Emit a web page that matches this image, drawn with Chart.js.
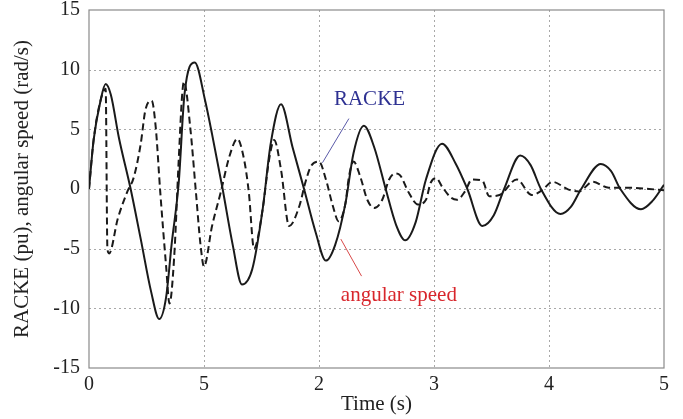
<!DOCTYPE html>
<html>
<head>
<meta charset="utf-8">
<script src="https://cdn.jsdelivr.net/npm/chart.js@4/dist/chart.umd.min.js"></script>
<style>
  html, body { margin: 0; padding: 0; background: #fff; }
  #wrap { width: 683px; height: 419px; position: relative; }
</style>
</head>
<body>
<div id="wrap"><canvas id="chart"></canvas></div>
<script>
// x tick labels as printed in the figure (the second one reads "5")
var xTickLabels = ['0', '5', '2', '3', '4', '5'];

// angular speed (solid)
var speedTime = [0, 0.04, 0.10, 0.145, 0.19, 0.26, 0.36, 0.45, 0.54, 0.61, 0.67, 0.72, 0.78, 0.83, 0.92,
  1.01, 1.07, 1.16, 1.25, 1.33, 1.42, 1.51, 1.58, 1.67, 1.77, 1.87, 1.97, 2.06, 2.14, 2.23, 2.30,
  2.39, 2.48, 2.58, 2.67, 2.75, 2.84, 2.93, 3.07, 3.19, 3.29, 3.42, 3.52, 3.61, 3.75, 3.84, 3.93,
  4.10, 4.19, 4.28, 4.45, 4.54, 4.62, 4.80, 4.90, 5.0];
var speedValue = [0, 4.1, 7.4, 8.8, 7.9, 4.3, 0.1, -4.2, -8.6, -10.9, -9.1, -4.5, 0.5, 7.9, 10.6,
  7.4, 4.6, 0.1, -4.7, -8.0, -6.7, -1.7, 3.8, 7.1, 3.5, 0, -3.6, -6.0, -4.7, -1.2, 3.0,
  5.3, 3.5, 0, -3.0, -4.3, -2.8, 0.8, 3.8, 2.1, 0, -3.1, -2.2, 0, 2.8, 2.0, 0,
  -2.1, -1.5, 0, 2.1, 1.5, 0, -1.7, -1.0, 0.35];

// RACKE (dashed)
var rackeTime = [0, 0.04, 0.10, 0.145, 0.16, 0.175, 0.25, 0.33, 0.39, 0.45, 0.49, 0.545, 0.58, 0.62,
  0.67, 0.70, 0.74, 0.78, 0.81, 0.826, 0.88, 0.93, 0.97, 1.0, 1.07, 1.145, 1.22, 1.29, 1.35, 1.39,
  1.435, 1.51, 1.565, 1.61, 1.67, 1.74, 1.83, 1.88, 1.93, 2.0, 2.06, 2.12, 2.17, 2.23, 2.26, 2.30,
  2.36, 2.42, 2.48, 2.55, 2.61, 2.66, 2.70, 2.78, 2.86, 2.93, 2.97, 3.02, 3.07, 3.145, 3.20, 3.27,
  3.33, 3.42, 3.48, 3.57, 3.72, 3.85, 3.94, 4.03, 4.17, 4.26, 4.38, 4.52, 4.70, 4.87, 5.0];
var rackeValue = [0, 4.1, 7.4, 8.4, -5.0, -5.4, -2.5, -0.3, 1.0, 3.8, 6.6, 7.4, 5.2, -0.3,
  -6.4, -9.6, -5.8, 2.4, 7.9, 9.0, 5.2, -0.3, -4.7, -6.5, -3.1, -0.3, 2.7, 4.2, 2.4, -0.3,
  -5.0, -1.7, 2.4, 4.1, 1.6, -3.1, -1.4, 0.5, 1.9, 2.3, 0.8, -1.4, -2.7, -1.2, 1.0, 2.3,
  1.0, -0.9, -1.6, -0.9, 0.8, 1.3, 1.2, -0.3, -1.3, -0.9, 0.5, 0.9, 0.2, -0.7, -0.9, -0.2,
  0.8, 0.7, -0.6, -0.5, 0.8, -0.5, -0.1, 0.6, -0.05, -0.2, 0.6, 0.1, 0.1, 0.0, -0.1];

// callout labels, in data units: [text, text x, text y, line from x, y, line to x, y]
var rackeNote = ['RACKE', 2.13, 7.0, 2.26, 5.9, 2.03, 2.2];
var speedNote = ['angular speed', 2.19, -9.4, 2.19, -4.2, 2.37, -7.3];

function toPoints(xs, ys){
  var pts = [];
  for (var i = 0; i < xs.length; i++) pts.push({x: xs[i], y: ys[i]});
  return pts;
}

var serif = "'Liberation Serif', 'DejaVu Serif', serif";

// dotted grid, frame and callout texts
var framePlugin = {
  id: 'frame',
  beforeDatasetsDraw: function(chart){
    var a = chart.chartArea, ctx = chart.ctx;
    var xs = chart.scales.x, ys = chart.scales.y;
    ctx.save();
    ctx.strokeStyle = '#a8a8a8';
    ctx.lineWidth = 1;
    ctx.setLineDash([2, 3]);
    xs.ticks.forEach(function(t){
      var px = Math.round(xs.getPixelForValue(t.value)) + 0.5;
      if (px - a.left < 2 || a.right - px < 2) return;
      ctx.beginPath(); ctx.moveTo(px, a.top); ctx.lineTo(px, a.bottom); ctx.stroke();
    });
    ys.ticks.forEach(function(t){
      var py = Math.round(ys.getPixelForValue(t.value)) + 0.5;
      if (py - a.top < 2 || a.bottom - py < 2) return;
      ctx.beginPath(); ctx.moveTo(a.left, py); ctx.lineTo(a.right, py); ctx.stroke();
    });
    ctx.setLineDash([]);
    ctx.strokeStyle = '#8a8a8a';
    ctx.lineWidth = 1.2;
    ctx.strokeRect(a.left, a.top, a.right - a.left, a.bottom - a.top);
    ctx.restore();
  },
  afterDatasetsDraw: function(chart){
    var xs = chart.scales.x, ys = chart.scales.y, ctx = chart.ctx;
    function note(n, textColor, lineColor){
      ctx.save();
      ctx.strokeStyle = lineColor;
      ctx.lineWidth = 1;
      ctx.beginPath();
      ctx.moveTo(xs.getPixelForValue(n[3]), ys.getPixelForValue(n[4]));
      ctx.lineTo(xs.getPixelForValue(n[5]), ys.getPixelForValue(n[6]));
      ctx.stroke();
      ctx.fillStyle = textColor;
      ctx.font = '21px ' + serif;
      ctx.textBaseline = 'alphabetic';
      ctx.fillText(n[0], xs.getPixelForValue(n[1]), ys.getPixelForValue(n[2]));
      ctx.restore();
    }
    note(rackeNote, '#2e3192', '#5a5aa8');
    note(speedNote, '#d8262c', '#d84848');
  }
};

var ctx = document.getElementById('chart').getContext('2d');
new Chart(ctx, {
  type: 'line',
  data: {
    datasets: [
      {
        label: 'angular speed',
        data: toPoints(speedTime, speedValue),
        borderColor: '#1a1a1a',
        borderWidth: 2,
        pointRadius: 0,
        cubicInterpolationMode: 'monotone',
        fill: false
      },
      {
        label: 'RACKE',
        data: toPoints(rackeTime, rackeValue),
        borderColor: '#1a1a1a',
        borderWidth: 2,
        borderDash: [7, 4],
        pointRadius: 0,
        cubicInterpolationMode: 'monotone',
        fill: false
      }
    ]
  },
  options: {
    responsive: true,
    maintainAspectRatio: false,
    animation: false,
    events: [],
    layout: { padding: { top: 10, right: 19, left: 0, bottom: 0 } },
    plugins: {
      legend: { display: false },
      tooltip: { enabled: false }
    },
    scales: {
      x: {
        type: 'linear',
        min: 0, max: 5,
        ticks: {
          stepSize: 1,
          padding: 5,
          color: '#222',
          font: { family: serif, size: 20 },
          maxRotation: 0,
          callback: function(v){ return xTickLabels[Math.round(v)]; }
        },
        grid: { display: false, drawTicks: false },
        border: { display: false },
        title: {
          display: true,
          text: 'Time (s)',
          color: '#222',
          font: { family: serif, size: 21 },
          padding: { top: 0, bottom: 2 }
        },
        afterFit: function(s){ s.height = 51; s.paddingLeft = 0; s.paddingRight = 0; }
      },
      y: {
        min: -15, max: 15,
        ticks: {
          stepSize: 5,
          padding: 9,
          color: '#222',
          font: { family: serif, size: 20 }
        },
        grid: { display: false, drawTicks: false },
        border: { display: false },
        title: {
          display: true,
          text: 'RACKE (pu), angular speed (rad/s)',
          color: '#222',
          font: { family: serif, size: 21 },
          padding: { top: 10, bottom: 0 }
        },
        afterFit: function(s){ s.width = 89; s.paddingTop = 0; s.paddingBottom = 0; }
      }
    }
  },
  plugins: [framePlugin]
});
</script>
</body>
</html>
